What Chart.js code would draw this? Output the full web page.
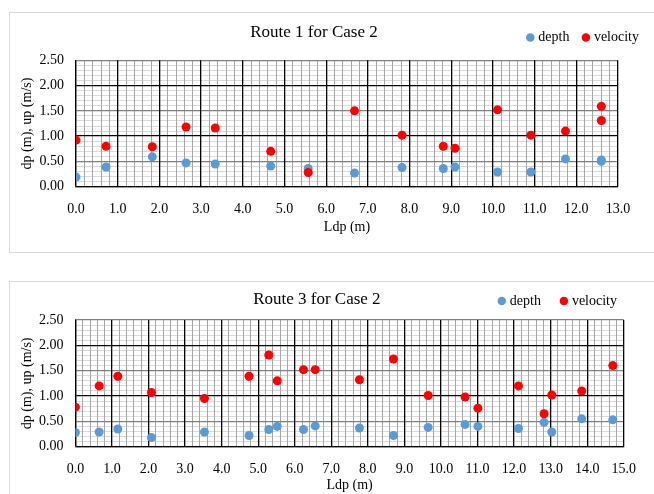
<!DOCTYPE html>
<html>
<head>
<meta charset="utf-8">
<script src="https://cdn.jsdelivr.net/npm/chart.js@4.4.0/dist/chart.umd.min.js"></script>
<style>
  body { margin: 0; background: #fff; width: 654px; height: 494px; overflow: hidden; position: relative; }
  .frame { position: absolute; left: 9px; width: 660px; height: 239px; border: 1px solid #d9d9d9; background: #fff; }
  #f1 { top: 12px; }
  #f2 { top: 281px; }
  canvas { display: block; }
</style>
</head>
<body>
<div class="frame" id="f1"><canvas id="c1" width="644" height="239"></canvas></div>
<div class="frame" id="f2"><canvas id="c2" width="644" height="239"></canvas></div>
<script>
// Route 1 for Case 2
const route1Ldp      = [0.0, 0.72, 1.83, 2.64, 3.34, 4.67, 5.57, 6.68, 7.82, 8.81, 9.09, 10.11, 10.91, 11.74, 12.6, 12.6];
const route1Depth    = [0.19, 0.39, 0.59, 0.47, 0.45, 0.41, 0.36, 0.27, 0.38, 0.36, 0.39, 0.29, 0.29, 0.55, 0.53, 0.50];
const route1Velocity = [0.92, 0.80, 0.79, 1.18, 1.16, 0.70, 0.28, 1.50, 1.02, 0.80, 0.76, 1.52, 1.02, 1.10, 1.59, 1.31];

// Route 3 for Case 2
const route3Ldp      = [0.0, 0.65, 1.16, 2.08, 3.53, 4.75, 5.29, 5.52, 6.24, 6.56, 7.77, 8.70, 9.65, 10.66, 11.01, 12.12, 12.82, 13.03, 13.85, 14.70];
const route3Depth    = [0.28, 0.29, 0.35, 0.18, 0.29, 0.22, 0.34, 0.40, 0.34, 0.41, 0.37, 0.22, 0.38, 0.44, 0.40, 0.36, 0.48, 0.29, 0.55, 0.53];
const route3Velocity = [0.78, 1.20, 1.39, 1.07, 0.95, 1.39, 1.81, 1.30, 1.52, 1.52, 1.32, 1.73, 1.01, 0.98, 0.76, 1.20, 0.65, 1.02, 1.10, 1.60];

const seriesNames = ['depth', 'velocity'];
const xTitle = 'Ldp (m)';
const yTitle = 'dp (m), up (m/s)';

Chart.defaults.font.family = "'Liberation Serif', 'Times New Roman', serif";
Chart.defaults.font.size = 14;
Chart.defaults.color = '#000';

function near(v, step) {
  return Math.abs(v / step - Math.round(v / step)) < 1e-6;
}

// move the legend up next to the title, at the right
const legendPos = {
  id: 'legendPos',
  afterLayout(chart, args, opts) {
    const lg = chart.legend;
    const pad = lg.options.labels.padding;
    const h = 14 + pad + 10;
    lg.top = opts.y - pad - 7;
    lg.bottom = lg.top + h;
    lg.height = h;
    lg.left = 0;
    lg.right = opts.right;
    lg.width = opts.right;
  }
};

// grid lines only darken, so crossing light lines don't cut the dark ones
const darkGrid = {
  id: 'darkGrid',
  beforeDraw(chart) { chart.ctx.globalCompositeOperation = 'darken'; },
  beforeDatasetsDraw(chart) { chart.ctx.globalCompositeOperation = 'source-over'; },
  afterDraw(chart) { chart.ctx.globalCompositeOperation = 'source-over'; }
};

function pts(xs, ys) {
  return xs.map((x, i) => ({ x: x, y: ys[i] }));
}

function makeChart(id, title, xs, depth, vel, o) {
  new Chart(document.getElementById(id), {
    type: 'scatter',
    data: {
      datasets: [
        { label: seriesNames[0], data: pts(xs, depth), backgroundColor: '#5b9bd5', borderColor: '#5b9bd5',
          pointRadius: 4.5, pointBorderWidth: 0, order: 1 },
        { label: seriesNames[1], data: pts(xs, vel), backgroundColor: '#ff0000', borderColor: '#ff0000',
          pointRadius: 4.5, pointBorderWidth: 0, order: 0 }
      ]
    },
    plugins: [legendPos, darkGrid],
    options: {
      responsive: false,
      animation: false,
      layout: { padding: { left: 0, right: o.right, top: 0, bottom: 0 } },
      plugins: {
        title: { display: true, text: title, font: { size: 17, weight: 'normal' }, color: '#000',
                 padding: { top: o.titleTop, bottom: o.titleBottom } },
        legend: {
          position: 'top',
          align: 'end',
          maxHeight: 1,
          labels: {
            usePointStyle: true, pointStyle: 'circle', boxWidth: 2, boxHeight: 6,
            padding: o.legendPad, color: '#000',
            sort: (a, b) => a.datasetIndex - b.datasetIndex
          }
        },
        legendPos: { y: o.legendY, right: o.legendRight },
        tooltip: { enabled: false }
      },
      scales: {
        x: {
          type: 'linear', min: 0, max: o.xMax,
          afterFit: (s) => { s.height = o.xHeight; },
          ticks: {
            stepSize: 0.2, autoSkip: false, maxRotation: 0, maxTicksLimit: 200, padding: 14,
            callback: (v) => near(v, 1) ? v.toFixed(1) : ''
          },
          grid: {
            drawTicks: false,
            color: (c) => near(c.tick.value, 1) ? '#000' : '#a6a6a6',
            lineWidth: (c) => near(c.tick.value, 1) ? 1.3 : 1
          },
          border: { display: true, color: '#404040', width: 1.3 },
          title: { display: true, text: xTitle, padding: { top: 0, bottom: o.xTitlePad } }
        },
        y: {
          type: 'linear', min: 0, max: 2.5,
          afterFit: (s) => { s.width = o.yWidth; },
          ticks: {
            stepSize: 0.1, autoSkip: false, maxTicksLimit: 200, padding: 12,
            callback: (v) => near(v, 0.5) ? v.toFixed(2) : ''
          },
          grid: {
            drawTicks: false,
            color: (c) => near(c.tick.value, 1) ? '#000' : (near(c.tick.value, 0.5) ? '#7f7f7f' : '#d9d9d9'),
            lineWidth: (c) => near(c.tick.value, 0.5) ? 1.3 : 1
          },
          border: { display: true, color: '#404040', width: 1.3 },
          title: { display: true, text: yTitle, padding: { top: 9, bottom: 0 } }
        }
      }
    }
  });
}

makeChart('c1', 'Route 1 for Case 2', route1Ldp, route1Depth, route1Velocity, {
  xMax: 13, yWidth: 66, right: 36, xHeight: 65.3, titleTop: 9.5, titleBottom: 16.4,
  xTitlePad: 15.9, legendPad: 15.5, legendY: 24.5, legendRight: 644.5
});

makeChart('c2', 'Route 3 for Case 2', route3Ldp, route3Depth, route3Velocity, {
  xMax: 15, yWidth: 65.4, right: 30.25, xHeight: 74.3, titleTop: 7, titleBottom: 9.6,
  xTitlePad: 27.6, legendPad: 22, legendY: 19, legendRight: 629
});
</script>
</body>
</html>
